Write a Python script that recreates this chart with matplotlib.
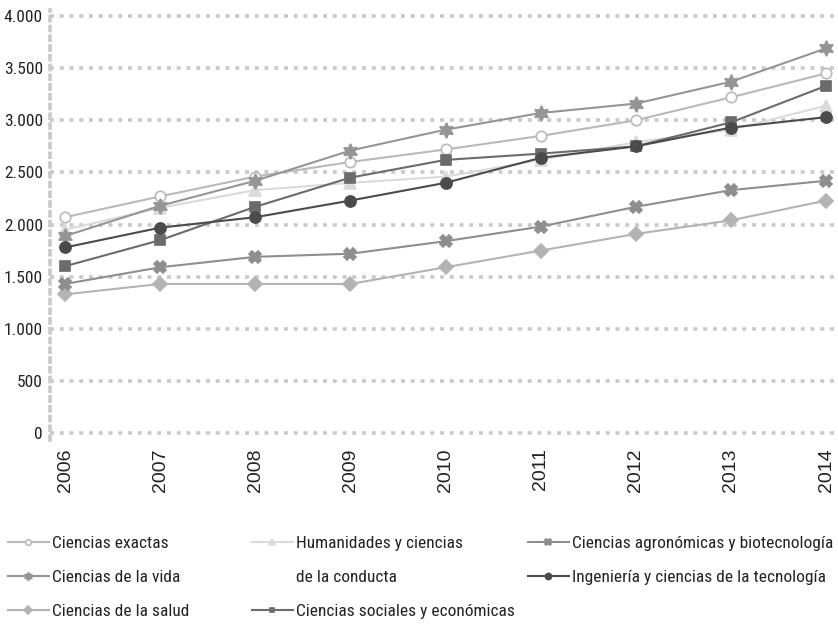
import matplotlib
matplotlib.use("Agg")
import matplotlib.pyplot as plt
from matplotlib import font_manager
from matplotlib.lines import Line2D
from matplotlib.ticker import FuncFormatter

# =======================
# Datos
# =======================
anios = [2006, 2007, 2008, 2009, 2010, 2011, 2012, 2013, 2014]

exactas = [2070, 2270, 2460, 2600, 2720, 2850, 3000, 3220, 3450]
humanidades = [1950, 2160, 2330, 2400, 2460, 2620, 2790, 2910, 3140]
agronomicas = [1430, 1590, 1690, 1720, 1840, 1980, 2170, 2330, 2420]
vida = [1890, 2180, 2420, 2710, 2910, 3070, 3160, 3370, 3690]
ingenieria = [1780, 1970, 2070, 2230, 2400, 2640, 2750, 2930, 3030]
salud = [1330, 1430, 1430, 1430, 1590, 1750, 1910, 2040, 2230]
sociales = [1600, 1850, 2170, 2450, 2620, 2680, 2750, 2980, 3330]

yticks = [0, 500, 1000, 1500, 2000, 2500, 3000, 3500, 4000]

# =======================
# Fuente condensada (la primera que haya)
# =======================
instaladas = {f.name for f in font_manager.fontManager.ttflist}
preferidas = ["Roboto Condensed", "Archivo Narrow", "PT Sans Narrow",
              "Liberation Sans Narrow", "Open Sans Condensed",
              "Encode Sans Condensed", "Barlow Semi Condensed"]
narrow = [f for f in preferidas if f in instaladas][:1] + ["DejaVu Sans"]
regular = [f for f in ["Liberation Sans", "Arimo"] if f in instaladas][:1] + ["DejaVu Sans"]

gris_grid = "#c9c9c9"

fig = plt.figure(figsize=(8.38, 6.27), dpi=100)
ax = fig.add_axes([50 / 838, 1 - 440 / 627, 786 / 838, 430 / 627])

series = [
    # (datos, etiqueta, color, marcador, tam, cara)
    (humanidades, "Humanidades y ciencias", "#dadada", "^", 9, "#dadada"),
    (exactas, "Ciencias exactas", "#b9b9b9", "o", 7.5, "white"),
    (salud, "Ciencias de la salud", "#b3b3b3", "D", 7, "#b3b3b3"),
    (agronomicas, "Ciencias agronómicas y biotecnología", "#8e8e8e", "X", 9, "#8e8e8e"),
    (vida, "Ciencias de la vida", "#959595", (6, 1, 0), 11, "#959595"),
    (sociales, "Ciencias sociales y económicas", "#6b6b6b", "s", 6.5, "#6b6b6b"),
    (ingenieria, "Ingeniería y ciencias de la tecnología", "#4b4b4b", "o", 8, "#4b4b4b"),
]

handles = {}
for datos, etiqueta, color, marcador, ms, cara in series:
    linea, = ax.plot(anios, datos, color=color, lw=1.5, marker=marcador,
                     markersize=ms, markerfacecolor=cara,
                     markeredgecolor=color, markeredgewidth=1.2,
                     label=etiqueta, zorder=3)
    handles[etiqueta] = linea

ax.set_xlim(2005.842, 2014.105)
ax.set_ylim(-67, 4058)
ax.set_yticks(yticks)
ax.set_xticks(anios)
ax.yaxis.set_major_formatter(FuncFormatter(lambda v, p: f"{int(v):,}".replace(",", ".")))

for lab in ax.get_yticklabels():
    lab.set_family(narrow)
    lab.set_fontsize(12.5)
    lab.set_color("#222222")
for lab in ax.get_xticklabels():
    lab.set_family(regular)
    lab.set_fontsize(14)
    lab.set_rotation(90)
    lab.set_color("#222222")

ax.tick_params(axis="both", length=0)
ax.tick_params(axis="y", pad=5)
ax.tick_params(axis="x", pad=6)

ax.grid(axis="y", color=gris_grid, lw=2.6, linestyle=(0, (1.1, 1.6)), zorder=0)
ax.grid(axis="x", visible=False)
for lado in ["top", "right", "bottom"]:
    ax.spines[lado].set_visible(False)
ax.spines["left"].set_color(gris_grid)
ax.spines["left"].set_linewidth(2.6)
ax.spines["left"].set_linestyle((0, (1.1, 1.6)))

# =======================
# Leyenda (tres columnas)
# =======================
vacio = Line2D([], [], color="none")
columnas = [
    (8, [handles["Ciencias exactas"], handles["Ciencias de la vida"],
         handles["Ciencias de la salud"]],
     ["Ciencias exactas", "Ciencias de la vida", "Ciencias de la salud"]),
    (252, [handles["Humanidades y ciencias"], vacio,
           handles["Ciencias sociales y económicas"]],
     ["Humanidades y ciencias", "de la conducta", "Ciencias sociales y económicas"]),
    (528, [handles["Ciencias agronómicas y biotecnología"],
           handles["Ingeniería y ciencias de la tecnología"]],
     ["Ciencias agronómicas y biotecnología", "Ingeniería y ciencias de la tecnología"]),
]

for x0, hs, labs in columnas:
    leg = fig.legend(hs, labs, loc="upper left",
                     bbox_to_anchor=(x0 / 838, 1 - 536 / 627),
                     frameon=False, borderpad=0, borderaxespad=0,
                     handlelength=2.35, handletextpad=0.2,
                     labelspacing=1.08, markerscale=0.55,
                     prop={"family": narrow, "size": 12.5})
    for t in leg.get_texts():
        t.set_color("#222222")

fig.savefig("out.png", dpi=100)
